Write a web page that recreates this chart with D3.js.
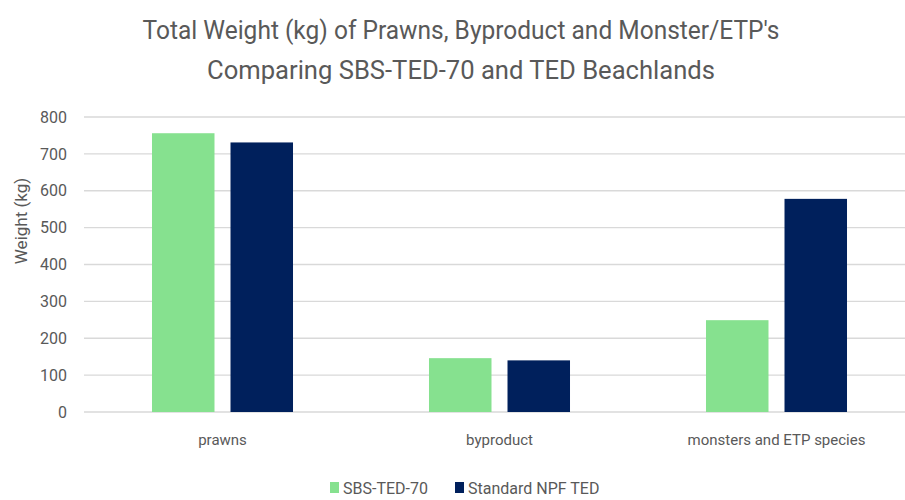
<!DOCTYPE html>
<html><head><meta charset="utf-8">
<script src="https://cdn.jsdelivr.net/npm/d3@7"></script>
<style>body{margin:0;background:#fff;} svg{display:block;}</style>
</head><body>
<script>
const categories = ["prawns", "byproduct", "monsters and ETP species"];
const seriesNames = ["SBS-TED-70", "Standard NPF TED"];
const sbsValues = [756, 146, 249];
const npfValues = [731, 140, 578];
const yTicks = [0, 100, 200, 300, 400, 500, 600, 700, 800];
const colors = ["#86E18F", "#00205C"];

const W = 905, H = 500;
const svg = d3.select("body").append("svg").attr("width", W).attr("height", H);
const font = "Roboto, 'Liberation Sans', sans-serif";

const x = d3.scaleBand().domain(categories).range([84, 915]).paddingInner(0).paddingOuter(0);
const y = d3.scaleLinear().domain([0, 800]).range([412, 117]);
const xs = d3.scaleBand().domain(seriesNames).range([0, x.bandwidth()]).paddingInner(0.204).paddingOuter(0.866);

// gridlines
svg.append("g").selectAll("line").data(yTicks).join("line")
  .attr("x1", 84).attr("x2", W)
  .attr("y1", d => y(d)).attr("y2", d => y(d))
  .attr("stroke", "#D9D9D9").attr("stroke-width", 1.3);

// y axis labels
const yAxis = d3.axisLeft(y).tickValues(yTicks).tickSize(0).tickPadding(0);
const ga = svg.append("g").attr("transform", "translate(67,0)").call(yAxis);
ga.select(".domain").remove();
ga.selectAll("text").attr("font-family", font).attr("font-size", 16).attr("fill", "#595959");

// bars
const data = categories.map((c, i) => ({cat: c, vals: [sbsValues[i], npfValues[i]]}));
const groups = svg.append("g").selectAll("g").data(data).join("g")
  .attr("transform", d => `translate(${x(d.cat)},0)`);
groups.selectAll("rect").data(d => d.vals.map((v, j) => ({s: seriesNames[j], v, j})))
  .join("rect")
  .attr("x", d => xs(d.s)).attr("width", xs.bandwidth())
  .attr("y", d => y(d.v)).attr("height", d => y(0) - y(d.v))
  .attr("fill", d => colors[d.j]);

// x axis labels
const xAxis = d3.axisBottom(x).tickSize(0).tickPadding(0);
const gx = svg.append("g").attr("transform", "translate(0,434)").call(xAxis);
gx.select(".domain").remove();
gx.selectAll("text").attr("font-family", font).attr("font-size", 15).attr("fill", "#595959");

// y axis title
svg.append("text").attr("transform", "translate(27,221) rotate(-90)")
  .attr("text-anchor", "middle").attr("font-family", font).attr("font-size", 17)
  .attr("fill", "#595959").text("Weight (kg)");

// title
const title = svg.append("text").attr("text-anchor", "middle").attr("font-family", font)
  .attr("font-size", 26).attr("fill", "#595959");
title.append("tspan").attr("x", 461).attr("y", 39).attr("textLength", 637).attr("lengthAdjust", "spacingAndGlyphs")
  .text("Total Weight (kg) of Prawns, Byproduct and Monster/ETP's");
title.append("tspan").attr("x", 461).attr("y", 79).attr("textLength", 508).attr("lengthAdjust", "spacingAndGlyphs")
  .text("Comparing SBS-TED-70 and TED Beachlands");

// legend
const legX = [330, 455];
const leg = svg.append("g").selectAll("g").data(seriesNames).join("g")
  .attr("transform", (d, i) => `translate(${legX[i]},488)`);
leg.append("rect").attr("x", 0).attr("y", -6).attr("width", 9).attr("height", 11)
  .attr("fill", (d, i) => colors[i]);
leg.append("text").attr("x", 13).attr("y", 0).attr("dy", "0.36em")
  .attr("font-family", font).attr("font-size", 16).attr("fill", "#595959").text(d => d);
</script>
</body></html>
